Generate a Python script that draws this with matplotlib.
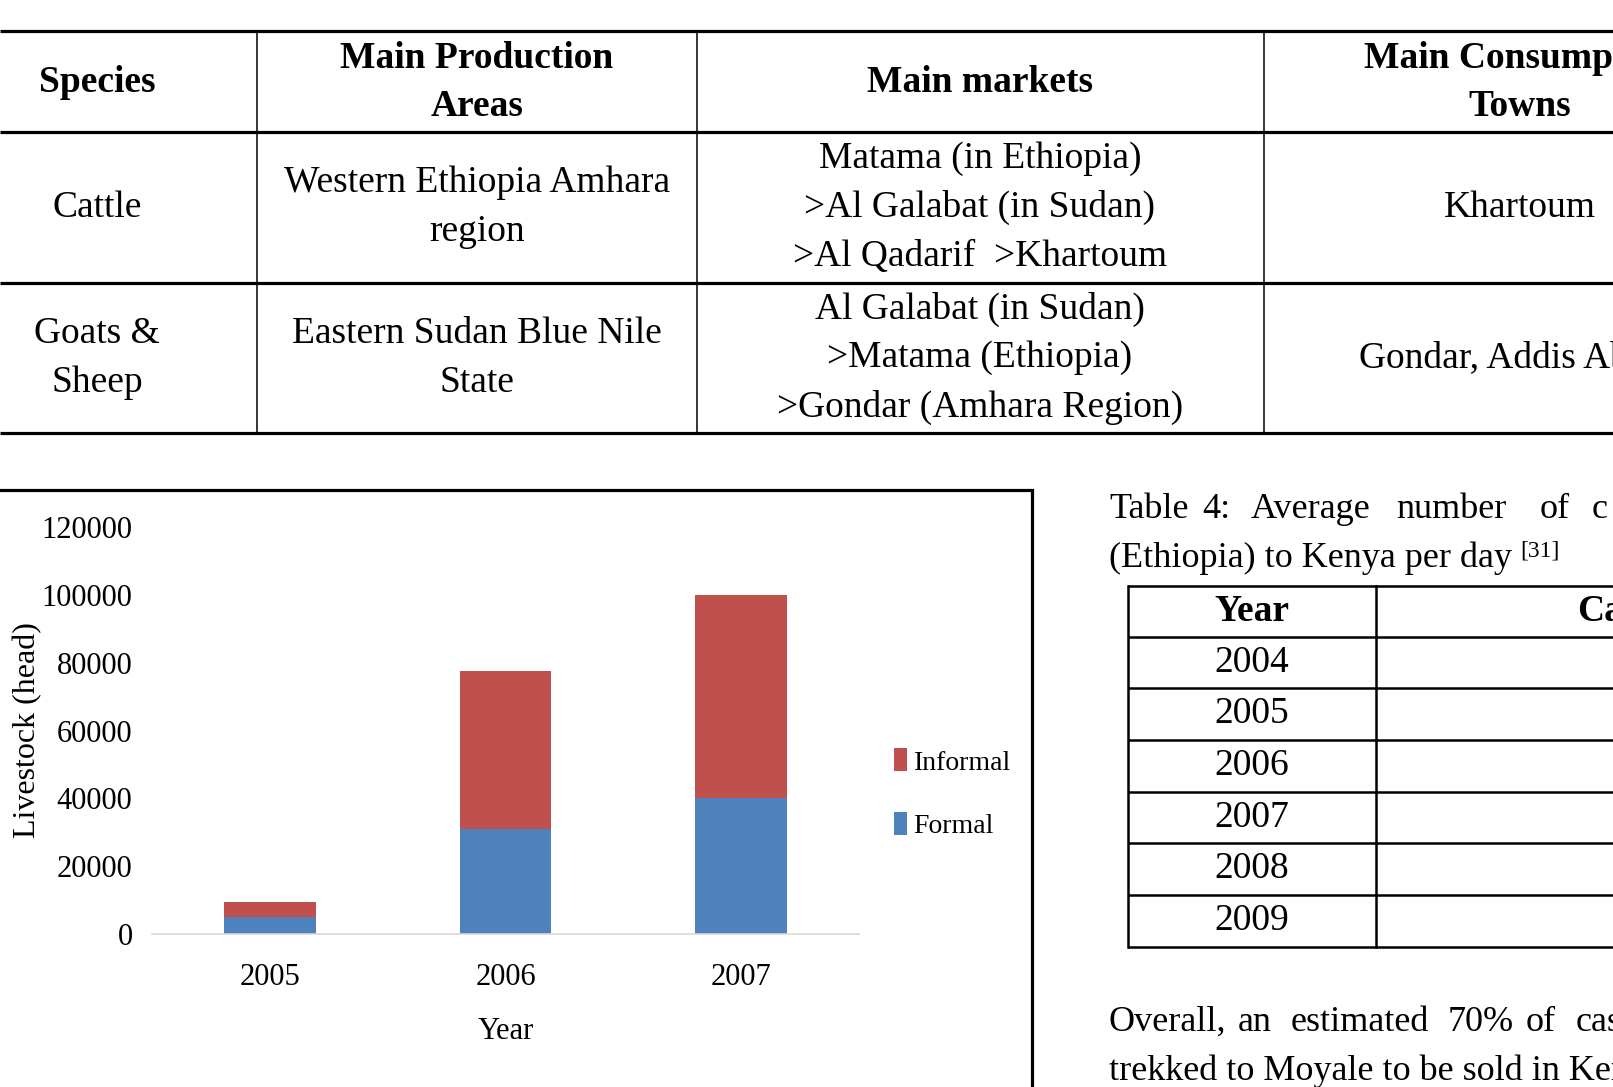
"""
Page snippet: livestock trade table + stacked bar chart (formal vs informal)
"""
import matplotlib.pyplot as plt
from matplotlib.patches import Rectangle

plt.rcParams['font.family'] = ['Liberation Serif', 'DejaVu Serif']

# chart data
years = ['2005', '2006', '2007']
formal = [5000, 31000, 40000]
informal = [4500, 46500, 60000]
yticks = [0, 20000, 40000, 60000, 80000, 100000, 120000]

# top table
top_header = [['Species'], ['Main Production', 'Areas'], ['Main markets'],
              ['Main Consumption', 'Towns']]
top_rows = [
    [['Cattle'], ['Western Ethiopia Amhara', 'region'],
     ['Matama (in Ethiopia)', '>Al Galabat (in Sudan)', '>Al Qadarif  >Khartoum'],
     ['Khartoum']],
    [['Goats &', 'Sheep'], ['Eastern Sudan Blue Nile', 'State'],
     ['Al Galabat (in Sudan)', '>Matama (Ethiopia)', '>Gondar (Amhara Region)'],
     ['Gondar, Addis Ababa']],
]

# table 4
t4_years = ['2004', '2005', '2006', '2007', '2008', '2009']

W, H = 1613, 1087
fig = plt.figure(figsize=(W / 100, H / 100), dpi=100)

# overlay in pixel coordinates for page text and rules
pg = fig.add_axes([0, 0, 1, 1], zorder=0)
pg.set_xlim(0, W)
pg.set_ylim(H, 0)
pg.axis('off')

# ---- top table ----
col_x = [-60, 257, 697, 1264, 1776]
row_y = [31, 132, 283, 433]
for y in row_y:
    pg.plot([0, W], [y, y], color='black', lw=2.3, solid_capstyle='butt')
for x in col_x[1:4]:
    pg.plot([x, x], [row_y[0], row_y[-1]], color='black', lw=1.1)

line_h = 49
centers_x = [97, 477, 980, 1520]
tfs = 27


def cell(lines, cx, cy, bold=False):
    n = len(lines)
    for i, s in enumerate(lines):
        y = cy + (i - (n - 1) / 2) * line_h
        pg.text(cx, y, s, ha='center', va='center', fontsize=tfs,
                fontweight='bold' if bold else 'normal')


for j, lines in enumerate(top_header):
    cell(lines, centers_x[j], (row_y[0] + row_y[1]) / 2 + 1, bold=True)
for i, row in enumerate(top_rows):
    cy = (row_y[i + 1] + row_y[i + 2]) / 2
    for j, lines in enumerate(row):
        cell(lines, centers_x[j], cy)

# ---- chart frame ----
pg.add_patch(Rectangle((-10, 490), 1042, 700, fill=False, ec='black', lw=2.3))

# ---- chart ----
ax = fig.add_axes([152 / W, 1 - 934 / H, 707 / W, 407 / H], zorder=2)
ax.patch.set_alpha(0)
b1 = ax.bar(years, formal, width=0.39, color='#4F81BD', label='Formal')
b2 = ax.bar(years, informal, width=0.39, bottom=formal, color='#C0504D', label='Informal')
ax.set_xlim(-0.5, 2.5)
ax.set_ylim(0, 120000)
ax.set_yticks(yticks)
ax.set_yticklabels([str(v) for v in yticks])
for s in ['top', 'right', 'left']:
    ax.spines[s].set_visible(False)
ax.spines['bottom'].set_color('#D9D9D9')
ax.spines['bottom'].set_linewidth(1.2)
ax.tick_params(axis='both', length=0, labelsize=22)
ax.tick_params(axis='y', pad=14)
ax.tick_params(axis='x', pad=21)
ax.set_xlabel('Year', fontsize=22, labelpad=18)
fig.text(28 / W, 1 - 730 / H, 'Livestock (head)', rotation=90, ha='center',
         va='center', fontsize=23)
ax.legend(handles=[b2, b1], loc='center left', bbox_to_anchor=(1.03, 0.345),
          frameon=False, fontsize=20, handlelength=0.45, handleheight=0.9,
          handletextpad=0.25, labelspacing=1.3, borderpad=0)

# ---- right column text ----
fs = 26
cap1 = [('Table', 1109), ('4:', 1202), ('Average', 1251), ('number', 1396),
        ('of', 1540), ('c', 1592)]
for w, x in cap1:
    pg.text(x, 518, w, ha='left', va='baseline', fontsize=fs)
pg.text(1109, 567, '(Ethiopia) to Kenya per day', ha='left', va='baseline',
        fontsize=fs)
pg.text(1520, 556, '[31]', ha='left', va='baseline', fontsize=17)

t4_cols = [1128, 1376, 1700]
t4_rows = [586, 637, 688, 740, 792, 843, 895, 947]
for y in t4_rows:
    pg.plot([t4_cols[0], W], [y, y], color='black', lw=1.8, solid_capstyle='butt')
for x in t4_cols[:2]:
    pg.plot([x, x], [t4_rows[0], t4_rows[-1]], color='black', lw=1.8)
pg.text(1252, (t4_rows[0] + t4_rows[1]) / 2, 'Year', ha='center', va='center',
        fontsize=tfs, fontweight='bold')
pg.text(1577, (t4_rows[0] + t4_rows[1]) / 2, 'Cattle', ha='left', va='center',
        fontsize=tfs, fontweight='bold')
for i, yr in enumerate(t4_years):
    pg.text(1252, (t4_rows[i + 1] + t4_rows[i + 2]) / 2, yr, ha='center',
            va='center', fontsize=tfs)

para1 = [('Overall,', 1109), ('an', 1238), ('estimated', 1291), ('70%', 1448),
         ('of', 1526), ('cases', 1576)]
for w, x in para1:
    pg.text(x, 1031, w, ha='left', va='baseline', fontsize=fs)
pg.text(1109, 1080, 'trekked to Moyale to be sold in Kenya', ha='left',
        va='baseline', fontsize=fs)

plt.savefig('out.png', dpi=100, facecolor='white')
plt.close()
